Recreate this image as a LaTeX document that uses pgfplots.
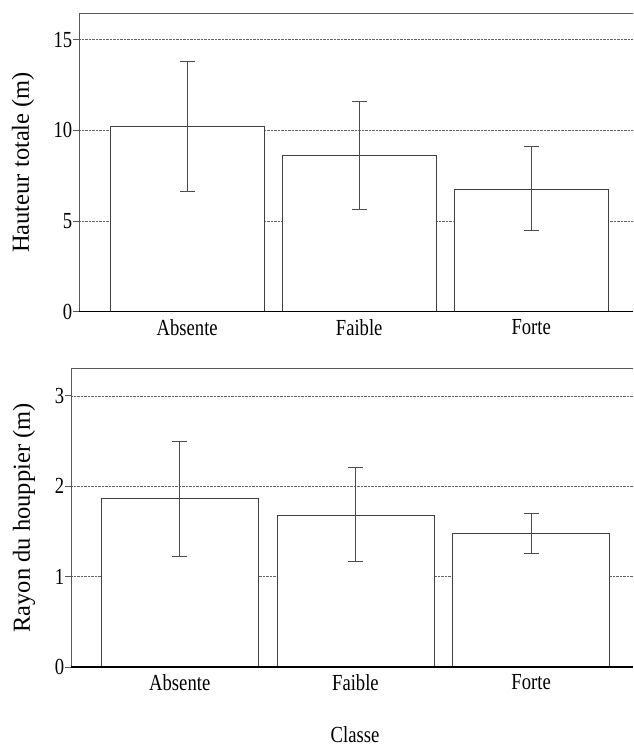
\documentclass[border=0pt]{standalone}
\usepackage{fontspec}
\setmainfont{Liberation Serif}
\newfontfamily\tickfont[FakeStretch=0.81]{Liberation Serif}
\usepackage{pgfplots}
\pgfplotsset{compat=1.18}
\begin{document}
\begin{tikzpicture}
\path[use as bounding box] (0pt,0pt) rectangle (633pt,-747pt);
\pgfplotsset{
  common/.style={
    scale only axis,
    axis x line*=bottom, axis y line*=left,
    x axis line style={black, line width=1.2pt},
    y axis line style={black!65, line width=0.8pt},
    xtick={0,1,2}, xticklabels={Absente,Faible,Forte},
    xtick style={draw=none},
    ytick style={black!65, line width=0.8pt},
    tick align=outside, major tick length=5.5pt,
    ymajorgrids, grid style={densely dotted, black!60, line width=0.6pt},
    ymin=0,
    tick label style={font=\tickfont\fontsize{23}{26}\selectfont},
    yticklabel style={inner xsep=1pt},
    xticklabel style={inner ysep=2pt},
    /pgf/number format/assume math mode=true,
    error bars/error bar style={black!70, line width=0.8pt},
    error bars/error mark options={rotate=90, mark size=7.5pt, black!70, line width=0.8pt},
  },
  barsty/.style={ybar, bar shift=0pt, draw=black!75, fill=white, line width=0.8pt,
    error bars/.cd, y dir=both, y explicit},
}
\begin{axis}[common,
  at={(79pt,-311.7pt)}, anchor=south west,
  width=554pt, height=298.7pt,
  xmin=-0.629, xmax=2.592, ymax=16.47,
  ytick={0,5,10,15},
  ylabel={Hauteur totale (m)},
  every axis y label/.style={at={(axis description cs:0,0.5)}, rotate=90, anchor=center, yshift=56pt, font=\fontsize{24.5}{28}\selectfont},
]
\addplot[bar width=154.5pt, barsty] coordinates {
  (0,10.2) += (0,3.61) -= (0,3.54)
  (1,8.63) += (0,2.95) -= (0,3.00)
  (2,6.75) += (0,2.35) -= (0,2.28)
};
\draw[black!65, line width=0.8pt] (rel axis cs:0,1) -- (rel axis cs:1,1);
\draw[black, line width=1.2pt] (rel axis cs:0,0) -- (rel axis cs:1,0);
\end{axis}
\begin{axis}[common,
  at={(71pt,-667pt)}, anchor=south west,
  width=562pt, height=298.3pt,
  xmin=-0.619, xmax=2.58, ymax=3.30,
  ytick={0,1,2,3},
  ylabel={Rayon du houppier (m)},
  every axis y label/.style={at={(axis description cs:0,0.5)}, rotate=90, anchor=center, yshift=47pt, font=\fontsize{24.5}{28}\selectfont},
  xlabel={Classe},
  every axis x label/.style={at={(axis description cs:0.5,0)}, anchor=base, yshift=-75pt, xshift=3pt, font=\tickfont\fontsize{23}{26}\selectfont},
]
\addplot[bar width=157pt, barsty] coordinates {
  (0,1.866) += (0,0.631) -= (0,0.638)
  (1,1.68) += (0,0.532) -= (0,0.515)
  (2,1.475) += (0,0.229) -= (0,0.222)
};
\draw[black!65, line width=0.8pt] (rel axis cs:0,1) -- (rel axis cs:1,1);
\draw[black, line width=1.2pt] (rel axis cs:0,0) -- (rel axis cs:1,0);
\end{axis}
\end{tikzpicture}
\end{document}
